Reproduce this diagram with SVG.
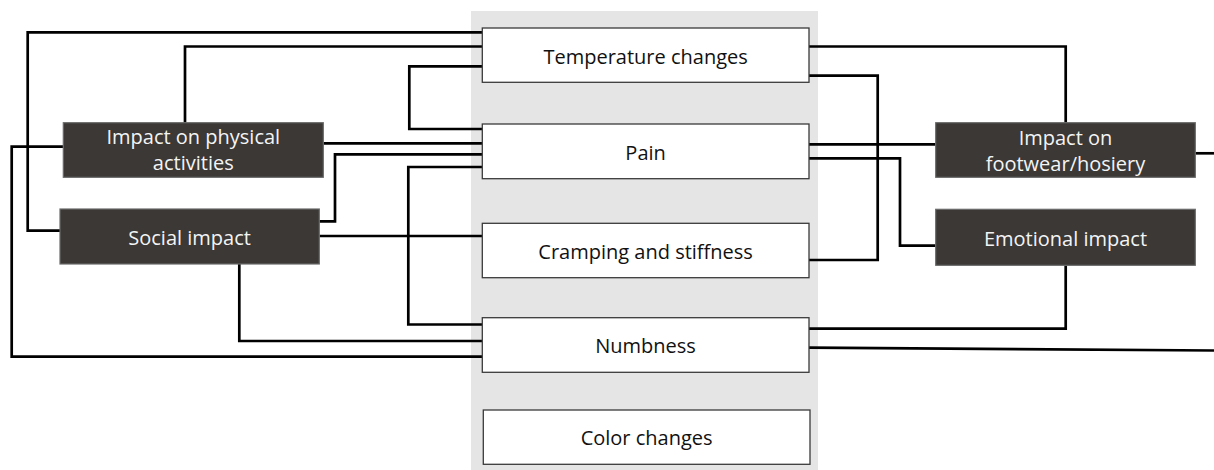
<svg xmlns="http://www.w3.org/2000/svg" width="1214" height="470" viewBox="0 0 1214 470">
<style>
.panel{fill:#e5e5e5}
.box rect{fill:#ffffff;stroke:#3a3a3a;stroke-width:1.3}
.dark rect{fill:#3b3836;stroke:#6a6a6a;stroke-width:1.2}
text{font-family:"Open Sans","Noto Sans",sans-serif;font-size:20px;text-anchor:middle}
.box text{fill:#111111}
.dark text{fill:#f4f4f4}
#connectors path{fill:none;stroke:#000000;stroke-width:2.7;stroke-linejoin:miter}
</style>
<rect class="panel" x="471" y="11" width="347" height="459"/>
<g id="connectors">
<path d="M482,32.3 H27.7 V230.7 H60"/>
<path d="M482,46.5 H185 V122.7"/>
<path d="M482,66.3 H409.3 V129 H482"/>
<path d="M323.3,143.3 H482"/>
<path d="M482,154.3 H335 V221.3 H319.3"/>
<path d="M482,167 H408.3 V324.5 H482"/>
<path d="M319.3,236 H482"/>
<path d="M239.3,264 V341 H482"/>
<path d="M63.3,146.7 H11.7 V356.7 H482"/>
<path d="M809,46.5 H1065.7 V122.7"/>
<path d="M809,75.7 H877.7 V260 H809"/>
<path d="M809,144.3 H935.7"/>
<path d="M809,158.3 H900 V245.7 H935.7"/>
<path d="M1195.3,153.3 H1214"/>
<path d="M1065.7,265.3 V328.7 H809"/>
<path d="M809,347.7 L1214,350.5"/>
</g>
<g id="temperature" class="box"><rect x="482.3" y="28" width="326.7" height="54.3"/><text x="645.6" y="63.5">Temperature changes</text></g>
<g id="pain" class="box"><rect x="482.3" y="124" width="326.7" height="54.7"/><text x="645.6" y="159.5">Pain</text></g>
<g id="cramping" class="box"><rect x="482.3" y="223.3" width="326.7" height="54.4"/><text x="645.6" y="258.5">Cramping and stiffness</text></g>
<g id="numbness" class="box"><rect x="482.3" y="317.7" width="326.7" height="54.6"/><text x="645.6" y="352.7">Numbness</text></g>
<g id="color" class="box"><rect x="483.3" y="410" width="326.7" height="54.3"/><text x="646.6" y="445">Color changes</text></g>
<g id="physical" class="dark"><rect x="63.3" y="122.7" width="260" height="54.6"/><text x="193.3" y="144">Impact on physical</text><text x="193.3" y="170">activities</text></g>
<g id="social" class="dark"><rect x="60" y="209" width="259.3" height="55"/><text x="189.6" y="245">Social impact</text></g>
<g id="footwear" class="dark"><rect x="935.7" y="122.7" width="259.6" height="54.6"/><text x="1065.5" y="145">Impact on</text><text x="1065.5" y="171">footwear/hosiery</text></g>
<g id="emotional" class="dark"><rect x="935.7" y="209.3" width="259.6" height="56"/><text x="1065.5" y="245.7">Emotional impact</text></g>
</svg>
